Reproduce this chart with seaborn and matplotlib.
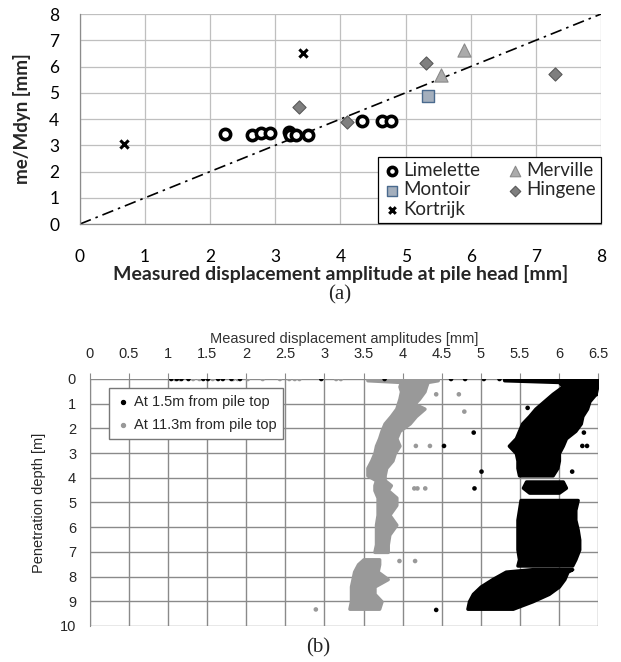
import seaborn as sns
import pandas as pd
import numpy as np
import matplotlib.pyplot as plt

# ---- (a) computed vs measured amplitude at pile head ----
lim_x = [2.23, 2.64, 2.78, 2.92, 3.21, 3.23, 3.31, 3.50, 4.33, 4.64, 4.77]
lim_y = [3.42, 3.39, 3.45, 3.45, 3.52, 3.39, 3.39, 3.39, 3.94, 3.94, 3.94]
mer_x = [5.90, 5.55]
mer_y = [6.63, 5.68]
mon_x = [5.34]
mon_y = [4.88]
hin_x = [3.36, 4.10, 5.31, 7.30]
hin_y = [4.44, 3.90, 6.12, 5.71]
kor_x = [0.67, 3.43]
kor_y = [3.05, 6.53]
line_xy = [0, 8]

# ---- (b) amplitude vs penetration depth ----
# band edges: depth, left and right amplitude, segment
top_d = [0.0, 0.05, 0.12, 0.3, 0.6, 0.9, 1.2, 1.5, 1.8, 2.1, 2.4, 2.7, 3.0, 3.3, 3.6, 3.9,
         4.15, 4.4, 4.6,
         4.9, 5.3, 5.7, 6.1, 6.5, 6.9, 7.3, 7.55,
         7.7, 7.8, 8.1, 8.4, 8.7, 9.0, 9.3]
top_l = [5.30, 5.30, 6.00, 6.05, 5.92, 5.81, 5.70, 5.62, 5.53, 5.49, 5.45, 5.36, 5.45, 5.47, 5.47, 5.49,
         5.58, 5.54, 5.62,
         5.51, 5.49, 5.47, 5.47, 5.47, 5.47, 5.49, 5.47,
         5.66, 5.32, 5.15, 5.00, 4.90, 4.85, 4.83]
top_r = [6.49, 6.49, 6.49, 6.49, 6.47, 6.39, 6.36, 6.30, 6.28, 6.21, 6.09, 6.05, 6.00, 6.00, 5.98, 5.92,
         6.05, 6.09, 6.00,
         6.24, 6.21, 6.21, 6.24, 6.26, 6.26, 6.21, 6.17,
         6.17, 6.11, 6.07, 6.00, 5.87, 5.66, 5.41]
top_seg = [0] * 16 + [1] * 3 + [2] * 8 + [3] * 7

low_d = [0.0, 0.05, 0.12, 0.3, 0.5, 0.8, 1.0, 1.2, 1.5, 1.8, 2.1, 2.4, 2.7, 3.0, 3.3, 3.6, 3.9,
         4.1, 4.3, 4.5, 4.8, 5.1, 5.5, 5.9, 6.3, 6.7, 7.0,
         7.3, 7.5, 7.8, 8.1, 8.4, 8.7, 9.0, 9.3]
low_l = [3.55, 3.55, 3.98, 3.96, 3.98, 3.96, 3.94, 3.92, 3.85, 3.77, 3.73, 3.70, 3.66, 3.64, 3.60, 3.55, 3.55,
         3.66, 3.64, 3.64, 3.68, 3.68, 3.68, 3.66, 3.66, 3.66, 3.64,
         3.50, 3.43, 3.38, 3.36, 3.34, 3.34, 3.34, 3.32]
low_r = [4.45, 4.45, 4.32, 4.30, 4.28, 4.21, 4.15, 4.28, 4.17, 4.09, 3.96, 3.92, 3.96, 3.90, 3.87, 3.79, 3.77,
         3.77, 3.85, 3.81, 3.92, 3.92, 3.83, 3.92, 3.83, 3.81, 3.81,
         3.70, 3.70, 3.68, 3.81, 3.64, 3.64, 3.73, 3.70]
low_seg = [0] * 27 + [1] * 8

# scattered single readings
top_px = [1.04, 1.11, 1.17, 1.26, 1.45, 1.51, 1.64, 1.70, 1.81, 1.92, 2.96, 3.77, 4.62, 4.80,
          5.04, 5.24, 6.48, 5.60, 6.32, 4.91, 6.32, 4.53, 6.30, 6.36, 5.01, 6.17, 4.92, 4.43]
top_pd = [0.0, 0.0, 0.0, 0.0, 0.0, 0.0, 0.0, 0.0, 0.0, 0.0, 0.0, 0.0, 0.0, 0.0,
          0.0, 0.0, 0.61, 1.17, 1.32, 2.17, 2.17, 2.71, 2.71, 2.71, 3.75, 3.75, 4.43, 9.35]
low_px = [1.09, 1.15, 1.32, 1.40, 1.57, 1.83, 1.89, 2.02, 2.21, 2.43, 2.55, 2.62, 2.68, 3.15,
          3.21, 4.43, 4.72, 4.79, 4.17, 4.35, 4.15, 4.19, 4.29, 3.96, 4.16, 2.89]
low_pd = [0.0, 0.0, 0.0, 0.0, 0.0, 0.0, 0.0, 0.0, 0.0, 0.0, 0.0, 0.0, 0.0, 0.0,
          0.0, 0.62, 0.62, 1.32, 2.71, 2.71, 4.43, 4.43, 4.43, 7.37, 7.37, 9.33]

top_band = pd.DataFrame({"d": top_d, "l": top_l, "r": top_r, "seg": top_seg})
low_band = pd.DataFrame({"d": low_d, "l": low_l, "r": low_r, "seg": low_seg})

sns.set_style("white")
plt.rcParams["font.family"] = ["Lato", "DejaVu Sans"]
arial = "Liberation Sans"

fig = plt.figure(figsize=(6.21, 6.62), dpi=100)
ax1 = fig.add_axes([0.1288, 0.6616, 0.839, 0.3172])
ax2 = fig.add_axes([0.1449, 0.0544, 0.818, 0.3731])

# ---------- (a) ----------
ax1.plot(line_xy, line_xy, color="black", lw=1.2, dashes=(7, 3, 1.5, 3), zorder=2)
sns.scatterplot(x=lim_x, y=lim_y, ax=ax1, marker="o", s=55, color="white",
                edgecolor="black", linewidth=2.6, label="Limelette", zorder=3)
sns.scatterplot(x=mon_x, y=mon_y, ax=ax1, marker="s", s=80, color="#a4afbd",
                edgecolor="#4a6a8e", linewidth=1, label="Montoir", zorder=3)
sns.scatterplot(x=kor_x, y=kor_y, ax=ax1, marker="x", s=35, color="black",
                linewidth=2.2, label="Kortrijk", zorder=3)
sns.scatterplot(x=mer_x, y=mer_y, ax=ax1, marker="^", s=90, color="#ababab",
                edgecolor="#8a8a8a", linewidth=0.8, label="Merville", zorder=3)
sns.scatterplot(x=hin_x, y=hin_y, ax=ax1, marker="D", s=45, color="#7f7f7f",
                edgecolor="#595959", linewidth=0.8, label="Hingene", zorder=3)

ax1.set_xlim(0, 8)
ax1.set_ylim(0, 8)
ax1.set_xticks(range(0, 9))
ax1.set_yticks(range(0, 9))
ax1.grid(True, color="#bfbfbf", lw=0.9)
ax1.set_axisbelow(True)
for s in ["top", "right"]:
    ax1.spines[s].set_visible(False)
for s in ["left", "bottom"]:
    ax1.spines[s].set_color("#8c8c8c")
    ax1.spines[s].set_linewidth(0.9)
ax1.tick_params(axis="both", direction="out", length=6, color="#8c8c8c",
                labelsize=12.5, labelcolor="black")
ax1.tick_params(axis="x", pad=12)
ax1.tick_params(axis="y", pad=9)
ax1.set_xlabel("Measured displacement amplitude at pile head [mm]",
               fontsize=14, fontweight="bold", labelpad=0)
ax1.set_ylabel("me/Mdyn [mm]", fontsize=13.5, fontweight="bold", labelpad=13)
leg1 = ax1.legend(ncol=2, loc="lower right", bbox_to_anchor=(1.0, 0.005),
                  fontsize=13.5, frameon=True, fancybox=False, borderaxespad=0,
                  handletextpad=0.1, columnspacing=1.4, handlelength=1.0,
                  borderpad=0.25, labelspacing=0.15, markerscale=0.8)
leg1.get_frame().set_edgecolor("black")
leg1.get_frame().set_linewidth(0.9)
leg1.get_frame().set_alpha(1)

fig.text(0.5475, 0.554, "(a)", family="Liberation Serif", fontsize=15,
         ha="center", va="center")

# ---------- (b) ----------
for _, g in low_band.groupby("seg"):
    ax2.fill_betweenx(g["d"], g["l"], g["r"], color="#999999", lw=2.5,
                      edgecolor="#999999", zorder=3)
for _, g in top_band.groupby("seg"):
    ax2.fill_betweenx(g["d"], g["l"], g["r"], color="black", lw=2.5,
                      edgecolor="black", zorder=4)
sns.scatterplot(x=low_px, y=low_pd, ax=ax2, color="#999999", s=11,
                edgecolor="none", zorder=3)
sns.scatterplot(x=top_px, y=top_pd, ax=ax2, color="black", s=11,
                edgecolor="none", zorder=4)
h1 = ax2.scatter([], [], color="black", s=8, label="At 1.5m from pile top")
h2 = ax2.scatter([], [], color="#999999", s=8, label="At 11.3m from pile top")

ax2.set_xlim(0, 6.5)
ax2.set_ylim(10, 0)
ax2.set_xticks(np.arange(0, 6.51, 0.5))
ax2.set_xticklabels(["0", "0.5", "1", "1.5", "2", "2.5", "3", "3.5", "4",
                     "4.5", "5", "5.5", "6", "6.5"])
ax2.set_yticks(range(0, 11))
ax2.xaxis.tick_top()
ax2.xaxis.set_label_position("top")
ax2.grid(True, color="#8a8a8a", lw=1.0)
ax2.set_axisbelow(True)
for s in ["top", "right", "bottom"]:
    ax2.spines[s].set_visible(False)
ax2.spines["left"].set_color("#8a8a8a")
ax2.tick_params(axis="both", direction="out", length=4, color="#8a8a8a",
                labelsize=10.5)
for t in ax2.get_xticklabels() + ax2.get_yticklabels():
    t.set_fontfamily(arial)
ax2.tick_params(axis="x", pad=9)
ax2.tick_params(axis="y", pad=6)
ax2.set_xlabel("Measured displacement amplitudes [mm]", family=arial,
               fontsize=10.5, color="#333333", labelpad=3)
ax2.set_ylabel("Penetration depth [m]", family=arial, fontsize=10.5,
               labelpad=10)
leg2 = ax2.legend(handles=[h1, h2], loc="upper left", bbox_to_anchor=(0.037, 0.964),
                  prop={"family": arial, "size": 10.5}, frameon=True,
                  fancybox=False, borderaxespad=0, handletextpad=0.2,
                  handlelength=1.0, borderpad=0.5, labelspacing=0.6)
leg2.get_frame().set_edgecolor("#777777")
leg2.get_frame().set_alpha(1)

fig.text(0.512, 0.021, "(b)", family="Liberation Serif", fontsize=15,
         ha="center", va="center")

fig.savefig("out.png", dpi=100)
